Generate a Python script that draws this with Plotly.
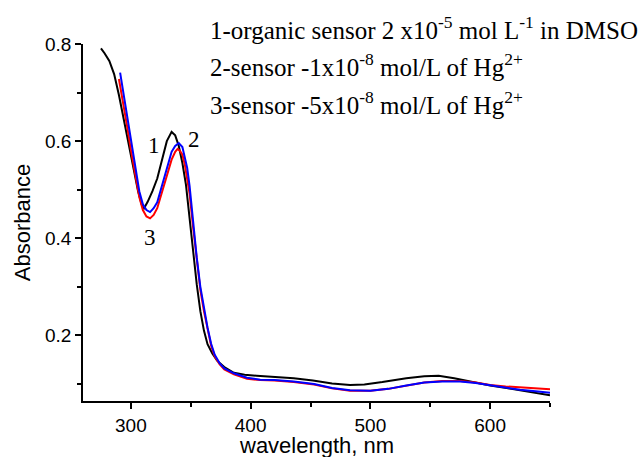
import plotly.graph_objects as go

# Absorption spectra (wavelength in nm, absorbance)
wl_sensor = [275, 278, 282, 286, 290, 294, 298, 302, 306, 309, 311, 314, 318, 322,
             326, 330, 334, 337, 340, 343, 346, 349, 352, 355, 358, 361, 364, 368,
             372, 378, 386, 395, 405, 420, 436, 452, 468, 483, 495, 510, 530, 545,
             557, 570, 585, 600, 615, 630, 650]
abs_sensor = [0.791, 0.781, 0.765, 0.738, 0.695, 0.645, 0.592, 0.545, 0.497, 0.470,
              0.462, 0.475, 0.497, 0.523, 0.560, 0.600, 0.619, 0.612, 0.590, 0.555,
              0.510, 0.437, 0.367, 0.305, 0.250, 0.210, 0.182, 0.163, 0.148, 0.135,
              0.123, 0.119, 0.117, 0.115, 0.112, 0.107, 0.101, 0.098, 0.099, 0.104,
              0.112, 0.116, 0.117, 0.112, 0.104, 0.097, 0.091, 0.085, 0.077]

wl_hg1 = [291, 294, 297, 300, 304, 307, 310, 313, 316, 319, 322, 326, 330, 334, 337,
          340, 343, 345, 347, 349, 352, 355, 358, 361, 364, 367, 370, 374, 378, 386,
          397, 408, 420, 436, 453, 468, 483, 500, 515, 530, 545, 560, 575, 588, 600,
          613, 625, 638, 650]
abs_hg1 = [0.741, 0.695, 0.645, 0.595, 0.534, 0.497, 0.470, 0.458, 0.454, 0.462,
           0.474, 0.508, 0.545, 0.578, 0.590, 0.596, 0.588, 0.568, 0.545, 0.508,
           0.430, 0.360, 0.300, 0.256, 0.216, 0.183, 0.160, 0.143, 0.132, 0.122,
           0.113, 0.109, 0.108, 0.105, 0.100, 0.092, 0.087, 0.086, 0.090, 0.097,
           0.103, 0.105, 0.105, 0.102, 0.097, 0.092, 0.088, 0.085, 0.082]

wl_hg5 = [290, 294, 297, 300, 304, 307, 310, 313, 316, 319, 322, 326, 330, 334, 337,
          339, 341, 343, 345, 347, 349, 352, 355, 358, 361, 364, 367, 370, 374, 378,
          386, 397, 408, 420, 436, 453, 468, 483, 500, 515, 530, 545, 560, 575, 588,
          600, 613, 625, 638, 650]
abs_hg5 = [0.728, 0.675, 0.628, 0.582, 0.525, 0.485, 0.458, 0.445, 0.441, 0.448,
           0.462, 0.497, 0.532, 0.562, 0.578, 0.584, 0.580, 0.572, 0.552, 0.525,
           0.492, 0.422, 0.354, 0.294, 0.250, 0.211, 0.179, 0.157, 0.141, 0.130,
           0.120, 0.111, 0.108, 0.107, 0.104, 0.099, 0.091, 0.086, 0.086, 0.090,
           0.097, 0.103, 0.106, 0.106, 0.103, 0.098, 0.095, 0.093, 0.091, 0.089]

x_ticks = [300, 400, 500, 600]
y_ticks = [0.2, 0.4, 0.6, 0.8]

x_title = "wavelength, nm"
y_title = "Absorbance"

curve_labels = [("1", 319.0, 0.592), ("2", 352.5, 0.603), ("3", 315.8, 0.402)]
legend_lines = [
    "1-organic sensor 2 x10<sup>-5</sup> mol L<sup>-1</sup> in DMSO",
    "2-sensor -1x10<sup>-8</sup> mol/L of Hg<sup>2+</sup>",
    "3-sensor -5x10<sup>-8</sup> mol/L of Hg<sup>2+</sup>",
]

serif = "Liberation Serif, Times New Roman, serif"
sans = "Liberation Sans, Arial, sans-serif"

fig = go.Figure()
for xs, ys, col in [(wl_sensor, abs_sensor, "#000000"),
                    (wl_hg5, abs_hg5, "#ff0000"),
                    (wl_hg1, abs_hg1, "#0000ff")]:
    fig.add_trace(go.Scatter(x=xs, y=ys, mode="lines",
                             line=dict(color=col, width=2), showlegend=False))

for txt, x, y in curve_labels:
    fig.add_annotation(x=x, y=y, text=txt, showarrow=False,
                       font=dict(family=serif, size=23, color="black"))

for i, txt in enumerate(legend_lines):
    fig.add_annotation(xref="paper", yref="paper", x=0.2685, y=1.045 - i * 0.105,
                       xanchor="left", yanchor="middle", text=txt, showarrow=False,
                       font=dict(family=serif, size=25, color="black"))

# x-axis title sits low, right at the bottom edge of the page
fig.add_annotation(xref="paper", yref="paper", x=0.5, y=-0.126,
                   xanchor="center", yanchor="middle", text=x_title, showarrow=False,
                   font=dict(family=sans, size=22, color="black"))

axis_common = dict(showline=True, linecolor="black", linewidth=1.5, mirror=False,
                   ticks="outside", ticklen=6, tickwidth=1.5, tickcolor="black",
                   showgrid=False, zeroline=False, automargin=False,
                   tickfont=dict(family=sans, size=19, color="black"))

fig.update_xaxes(range=[260, 650], tickvals=x_ticks,
                 minor=dict(ticks="outside", ticklen=4, tickwidth=1.5,
                            tickcolor="black", tick0=350, dtick=100),
                 **axis_common)
fig.update_yaxes(range=[0.065, 0.8], tickvals=y_ticks, tickformat=".1f",
                 minor=dict(ticks="outside", ticklen=4, tickwidth=1.5,
                            tickcolor="black", tick0=0.1, dtick=0.2),
                 title=dict(text=y_title, standoff=8,
                            font=dict(family=sans, size=22, color="black")),
                 **axis_common)

fig.update_layout(width=644, height=457, plot_bgcolor="white", paper_bgcolor="white",
                  margin=dict(l=82.5, r=94, t=44, b=56))

fig.write_html("out.html")
